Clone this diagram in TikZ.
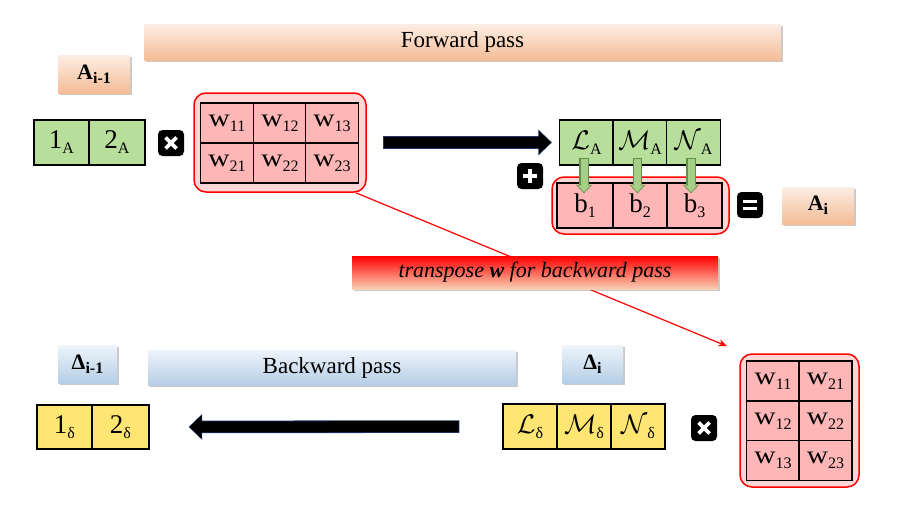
\documentclass[tikz,border=0pt]{standalone}
\usepackage{fix-cm}
\usepackage{graphicx}
\usepackage{fontspec}
\setmainfont{Liberation Serif}
\usetikzlibrary{arrows.meta,shadows}
\definecolor{gcell}{RGB}{184,222,156}
\definecolor{pcell}{RGB}{255,182,182}
\definecolor{pbox}{RGB}{255,214,214}
\definecolor{ycell}{RGB}{255,230,115}
\definecolor{peachtop}{RGB}{252,238,228}
\definecolor{peachbot}{RGB}{244,188,150}
\definecolor{bluetop}{RGB}{238,244,250}
\definecolor{bluebot}{RGB}{181,206,231}
\definecolor{gdark}{RGB}{95,145,70}
\definecolor{garrowc}{RGB}{165,206,135}
\definecolor{navyedge}{RGB}{35,55,110}
\definecolor{transbot}{RGB}{250,208,180}
\newcommand\lsub[2][5pt]{\raisebox{-#1}{\fontsize{16}{16}\selectfont #2}}
\newcommand\wsym{\scalebox{1.18}[1]{w}}
\tikzset{
  cellbase/.style={draw=black, line width=1.3pt, inner sep=0pt, minimum height=45pt, font=\fontsize{27}{29}\selectfont},
  gcellst/.style={cellbase, fill=gcell, minimum width=55pt},
  ycellst/.style={cellbase, fill=ycell, minimum width=55pt, minimum height=44pt},
  wcellst/.style={cellbase, fill=pcell, minimum width=53pt, minimum height=40pt, font=\fontsize{25}{27}\selectfont},
  bcellst/.style={cellbase, fill=pcell, minimum width=55pt},
  redbox/.style={draw=red, line width=1.5pt, fill=pbox, rounded corners=12pt, inner sep=0pt},
  iconbox/.style={fill=black, rounded corners=4.5pt, minimum size=26pt, inner sep=0pt},
  iconline/.style={white, line width=3.6pt},
  shadowed/.style={drop shadow={shadow xshift=2pt, shadow yshift=-2pt, opacity=0.35, fill=black!60}},
  peachlabel/.style={top color=peachtop, bottom color=peachbot, shadowed, inner sep=0pt},
  bluelabel/.style={top color=bluetop, bottom color=bluebot, shadowed, inner sep=0pt},
  barfont/.style={font=\fontsize{23}{26}\selectfont},
  labfont/.style={font=\fontsize{22}{24}\selectfont\bfseries},
  bigout/.style={navyedge, line width=12.6pt, -{Triangle[length=13.5pt,width=25pt]}},
  bigin/.style={black, line width=11pt, -{Triangle[length=12pt,width=22.5pt]}},
  gout/.style={gdark, line width=9.4pt, -{Triangle[length=8.5pt,width=15.5pt]}},
  gin/.style={garrowc, line width=7pt, -{Triangle[length=6.8pt,width=12.5pt]}},
  tarrow/.style={red, line width=1.2pt, -{Stealth[length=9pt,width=7pt]}}
}
\begin{document}
\begin{tikzpicture}[x=1pt,y=-1pt]
\fill[white] (0,0) rectangle (900,506);
\useasboundingbox (0,0) rectangle (900,506);

% ---------- forward part ----------
\node[peachlabel, barfont, minimum width=637pt, minimum height=36pt] (fwd) at (462.5,42) {Forward pass};
\node[peachlabel, labfont, minimum width=72pt, minimum height=38pt] (Aim) at (94,74) {A\lsub[4pt]{i-1}};

\node[gcellst] (a1) at (61.5,142.5) {1\lsub{A}};
\node[gcellst, minimum width=56pt] (a2) at (117,142.5) {2\lsub{A}};

\node[iconbox] (tim1) at (171,143) {};
\draw[iconline] ([shift={(-5.5pt,-5.5pt)}]tim1.center) -- ([shift={(5.5pt,5.5pt)}]tim1.center);
\draw[iconline] ([shift={(-5.5pt,5.5pt)}]tim1.center) -- ([shift={(5.5pt,-5.5pt)}]tim1.center);

\node[redbox, minimum width=172pt, minimum height=99pt] (Wbox) at (280,142.5) {};
\node[wcellst] (w11) at (227,123) {\wsym\lsub{11}};
\node[wcellst] (w12) at (280,123) {\wsym\lsub{12}};
\node[wcellst] (w13) at (332,123) {\wsym\lsub{13}};
\node[wcellst] (w21) at (227,163) {\wsym\lsub{21}};
\node[wcellst] (w22) at (280,163) {\wsym\lsub{22}};
\node[wcellst] (w23) at (332,163) {\wsym\lsub{23}};

\node[gcellst, minimum width=54pt] (LA) at (586.5,142.5) {$\mathcal{L}$\lsub{A}};
\node[gcellst, minimum width=54pt] (MA) at (640,142.5) {$\mathcal{M}$\lsub{A}};
\node[gcellst, minimum width=54pt] (NA) at (693.5,142.5) {$\mathcal{N}$\lsub{A}};

\draw[bigout, shorten <=16pt, shorten >=7pt] (Wbox.east) -- (LA.west);
\draw[bigin, shorten <=16.8pt, shorten >=7.9pt] (Wbox.east) -- (LA.west);

\node[iconbox] (plus) at (530,176) {};
\draw[iconline] ([xshift=-7pt]plus.center) -- ([xshift=7pt]plus.center);
\draw[iconline] ([yshift=-7pt]plus.center) -- ([yshift=7pt]plus.center);

\node[redbox, minimum width=177pt, minimum height=57pt] (bbox) at (640.5,205.5) {};
\node[bcellst, minimum width=56pt] (b1) at (585,205.5) {b\lsub{1}};
\node[bcellst, minimum width=54pt] (b2) at (640,205.5) {b\lsub{2}};
\node[bcellst, minimum width=55pt] (b3) at (694.5,205.5) {b\lsub{3}};

\foreach \c/\d in {LA/b1, MA/b2, NA/b3}{
  \draw[gout] ([xshift=-2.5pt, yshift=8pt]\c.south) -- ([xshift=-2.5pt, yshift=-11pt]\c.south |- \d.north);
  \draw[gin, shorten >=1.2pt] ([xshift=-2.5pt, yshift=7pt]\c.south) -- ([xshift=-2.5pt, yshift=-11pt]\c.south |- \d.north);
}

\node[iconbox] (eq) at (750,205) {};
\draw[iconline, line width=3.4pt] ([shift={(-7pt,3.6pt)}]eq.center) -- ([shift={(7pt,3.6pt)}]eq.center);
\draw[iconline, line width=3.4pt] ([shift={(-7pt,-3.6pt)}]eq.center) -- ([shift={(7pt,-3.6pt)}]eq.center);

\node[peachlabel, labfont, minimum width=72pt, minimum height=37pt] (Ai) at (818,205.5) {A\lsub[4pt]{i}};

% ---------- transposed weights ----------
\node[redbox, minimum width=119pt, minimum height=133pt] (WT) at (799.5,420.5) {};
\node[wcellst] (t11) at (773,381) {\wsym\lsub{11}};
\node[wcellst] (t21) at (825.5,381) {\wsym\lsub{21}};
\node[wcellst] (t12) at (773,421) {\wsym\lsub{12}};
\node[wcellst] (t22) at (825.5,421) {\wsym\lsub{22}};
\node[wcellst] (t13) at (773,460.5) {\wsym\lsub{13}};
\node[wcellst] (t23) at (825.5,460.5) {\wsym\lsub{23}};

\coordinate (tstart) at ([xshift=-11pt]Wbox.south east);
\coordinate (tend) at ([xshift=-12pt, yshift=7pt]WT.north west);
\draw[tarrow] (tstart) -- (tend);

\node[top color=red, bottom color=transbot, shadowed, inner sep=0pt, minimum width=366pt, minimum height=33pt, font=\fontsize{22}{24}\selectfont\itshape] (trans) at (535,272.5) {transpose \textbf{w} for backward pass};

% ---------- backward part ----------
\node[bluelabel, labfont, minimum width=59pt, minimum height=38pt] (Dim) at (87.5,364) {Δ\lsub[4pt]{i-1}};
\node[bluelabel, barfont, minimum width=368pt, minimum height=35pt] (bwd) at (332,367.5) {Backward pass};
\node[bluelabel, labfont, minimum width=61pt, minimum height=38pt] (Di) at (592.5,364) {Δ\lsub[4pt]{i}};

\node[ycellst] (d1) at (64.5,427) {1\lsub{δ}};
\node[ycellst, minimum width=57pt] (d2) at (120.5,427) {2\lsub{δ}};

\node[ycellst, minimum width=54pt, minimum height=45pt] (Ld) at (530,426.5) {$\mathcal{L}$\lsub{δ}};
\node[ycellst, minimum width=54pt, minimum height=45pt] (Md) at (584,426.5) {$\mathcal{M}$\lsub{δ}};
\node[ycellst, minimum width=54pt, minimum height=45pt] (Nd) at (638,426.5) {$\mathcal{N}$\lsub{δ}};

\draw[bigout, shorten <=43pt, shorten >=39pt] (Ld.west) -- (d2.east);
\draw[bigin, shorten <=43.8pt, shorten >=39.9pt] (Ld.west) -- (d2.east);

\node[iconbox] (tim2) at (704,428) {};
\draw[iconline] ([shift={(-5.5pt,-5.5pt)}]tim2.center) -- ([shift={(5.5pt,5.5pt)}]tim2.center);
\draw[iconline] ([shift={(-5.5pt,5.5pt)}]tim2.center) -- ([shift={(5.5pt,-5.5pt)}]tim2.center);
\end{tikzpicture}
\end{document}
